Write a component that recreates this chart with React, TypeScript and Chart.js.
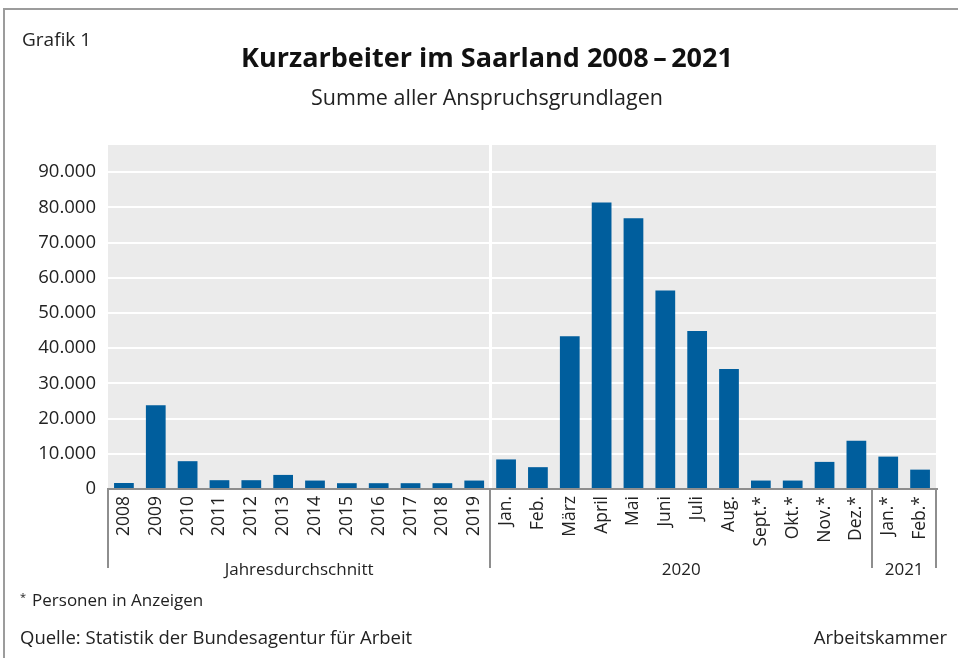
import React, { useEffect, useRef } from "react";
import { Chart, registerables } from "chart.js";

Chart.register(...registerables);

const categories = [
  "2008", "2009", "2010", "2011", "2012", "2013", "2014", "2015", "2016", "2017", "2018", "2019",
  "Jan.", "Feb.", "März", "April", "Mai", "Juni", "Juli", "Aug.", "Sept.*", "Okt.*", "Nov.*", "Dez.*",
  "Jan.*", "Feb.*",
];
const values = [
  1700, 23800, 7900, 2500, 2500, 4000, 2400, 1650, 1650, 1650, 1650, 2400,
  8400, 6200, 43400, 81400, 76900, 56400, 44900, 34100, 2400, 2400, 7700, 13700,
  9200, 5500,
];
const groupLabels = ["Jahresdurchschnitt", "2020", "2021"];
const groupBounds = [0, 12, 24, 26];
const yTickMax = 90000;
const yStep = 10000;
const yAxisMax = 97700;

const FONT = "'Open Sans', 'Noto Sans', sans-serif";
const TEXT = "#222222";
const AXIS_GRAY = "#8e8e8e";

function fmt(v: number) {
  return String(v).replace(/\B(?=(\d{3})+(?!\d))/g, ".");
}

const decorPlugin = {
  id: "decor",
  beforeDraw(chart: any) {
    const { ctx, chartArea } = chart;
    ctx.save();
    ctx.fillStyle = "#ebebeb";
    ctx.fillRect(chartArea.left, chartArea.top, chartArea.right - chartArea.left, chartArea.bottom - chartArea.top);
    ctx.restore();
  },
  afterDraw(chart: any) {
    const { ctx, chartArea } = chart;
    const x = chart.scales.x;
    const n = categories.length;
    const w = (x.right - x.left) / n;
    const bx = (b: number) => x.left + b * w;
    ctx.save();
    ctx.strokeStyle = AXIS_GRAY;
    ctx.lineWidth = 2;
    groupBounds.forEach((b) => {
      const px = Math.round(bx(b));
      ctx.beginPath();
      ctx.moveTo(px, chartArea.bottom);
      ctx.lineTo(px, chartArea.bottom + 79);
      ctx.stroke();
    });
    ctx.fillStyle = TEXT;
    ctx.font = `17px ${FONT}`;
    ctx.textAlign = "center";
    ctx.textBaseline = "middle";
    for (let i = 0; i < groupLabels.length; i++) {
      const cx = (bx(groupBounds[i]) + bx(groupBounds[i + 1])) / 2;
      ctx.fillText(groupLabels[i], cx, chartArea.bottom + 81);
    }
    ctx.restore();
  },
};

export default function App() {
  const ref = useRef<HTMLCanvasElement | null>(null);

  useEffect(() => {
    if (!ref.current) return;
    const chart = new Chart(ref.current, {
      type: "bar",
      data: {
        labels: categories,
        datasets: [
          {
            data: values,
            backgroundColor: "#005e9d",
            borderWidth: 0,
            barPercentage: 0.62,
            categoryPercentage: 1,
          },
        ],
      },
      options: {
        animation: false,
        responsive: false,
        maintainAspectRatio: false,
        layout: { padding: { left: 0, top: 145, right: 22, bottom: 89 } },
        plugins: {
          legend: { display: false },
          tooltip: { enabled: false },
          title: { display: false },
        },
        scales: {
          x: {
            grid: {
              offset: true,
              drawTicks: false,
              lineWidth: 3,
              color: (ctx: any) => (ctx.index === 12 ? "#ffffff" : "rgba(0,0,0,0)"),
            },
            border: { display: true, color: AXIS_GRAY, width: 2 },
            ticks: {
              autoSkip: false,
              minRotation: 90,
              maxRotation: 90,
              padding: 7,
              color: TEXT,
              font: { family: FONT, size: 17.5 },
            },
            afterFit: (scale: any) => {
              scale.height = 80;
            },
          },
          y: {
            min: 0,
            max: yAxisMax,
            grid: { color: "#ffffff", lineWidth: 2, drawTicks: false },
            border: { display: false },
            afterBuildTicks: (scale: any) => {
              const t = [];
              for (let v = 0; v <= yTickMax; v += yStep) t.push({ value: v });
              scale.ticks = t;
            },
            ticks: {
              padding: 12,
              color: TEXT,
              font: { family: FONT, size: 18.5 },
              callback: (v: any) => fmt(Number(v)),
            },
            afterFit: (scale: any) => {
              scale.width = 108;
            },
          },
        },
      },
      plugins: [decorPlugin],
    });
    return () => chart.destroy();
  }, []);

  const base: React.CSSProperties = {
    position: "absolute",
    fontFamily: FONT,
    color: TEXT,
    whiteSpace: "nowrap",
    lineHeight: 1,
  };

  return (
    <div style={{ position: "fixed", left: 0, top: 0, width: 958, height: 658, background: "#fff", overflow: "hidden" }}>
      <canvas ref={ref} width={958} height={658} style={{ position: "absolute", left: 0, top: 0, width: 958, height: 658 }} />
      <div
        style={{
          position: "absolute",
          left: 3,
          top: 8,
          width: 980,
          height: 700,
          borderTop: "2px solid #9c9c9c",
          borderLeft: "2px solid #9c9c9c",
          pointerEvents: "none",
        }}
      />
      <div style={{ ...base, left: 22, top: 30, fontSize: 19 }}>Grafik 1</div>
      <div style={{ ...base, left: 0, width: 974, top: 43, textAlign: "center", fontSize: 27, fontWeight: 700, color: "#111" }}>
        Kurzarbeiter im Saarland 2008{"\u2009–\u2009"}2021
      </div>
      <div style={{ ...base, left: 0, width: 974, top: 86, textAlign: "center", fontSize: 21.5 }}>
        Summe aller Anspruchsgrundlagen
      </div>
      <div style={{ ...base, left: 20, top: 591, fontSize: 17 }}>
        <span style={{ fontSize: 11, verticalAlign: "top", marginRight: 6 }}>*</span>Personen in Anzeigen
      </div>
      <div style={{ ...base, left: 20, top: 628, fontSize: 18.5 }}>Quelle: Statistik der Bundesagentur für Arbeit</div>
      <div style={{ ...base, right: 11, top: 628, fontSize: 18.5 }}>Arbeitskammer</div>
    </div>
  );
}
